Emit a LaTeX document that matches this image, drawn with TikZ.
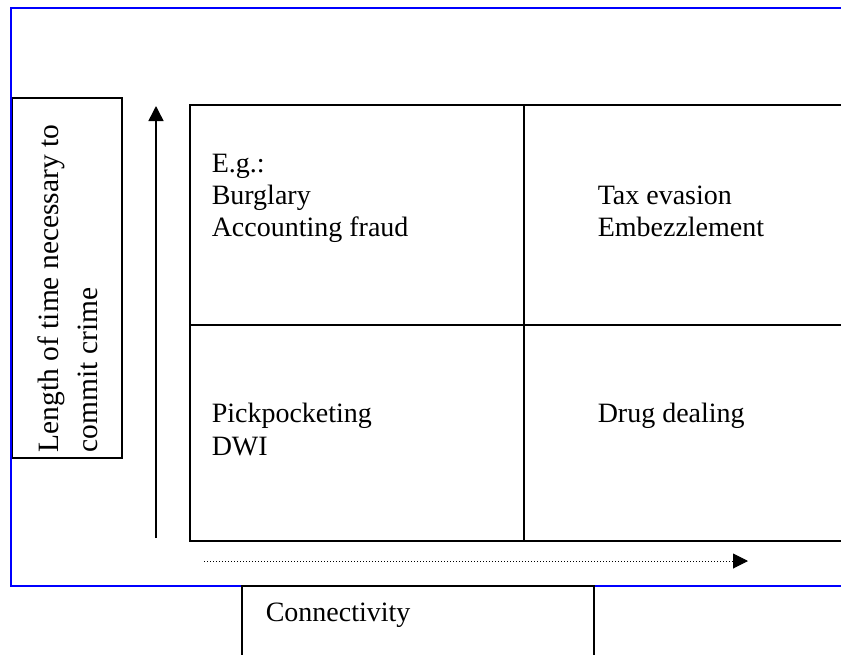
\documentclass[tikz,border=0pt]{standalone}
\usepackage{fontspec}
\setmainfont{Liberation Serif}
\usetikzlibrary{arrows.meta}

\tikzset{
  txt/.style={anchor=base west, inner sep=0pt, font=\fontsize{28}{32}\selectfont},
  sidetxt/.style={txt, rotate=90, font=\fontsize{29.5}{34}\selectfont},
  labelbox/.style={draw, line width=1.5pt, inner sep=0pt, outer sep=0pt, anchor=north west},
  frame/.style={draw=blue, line width=1.5pt},
  tip/.style={-{Triangle[length=15pt,width=15pt]}},
}

\begin{document}
\begin{tikzpicture}[x=1pt,y=-1pt,line width=1.5pt]

	\clip (0,0) rectangle (841,654);

	% label of the vertical axis
	\node[labelbox, minimum width=110pt, minimum height=360pt] (timebox) at (12,98) {};
	\node[sidetxt] (time1) at (58,453) {Length of time necessary to};
	\node[sidetxt] (time2) at (97,453) {commit crime};

	\draw[frame] (860,586) -- (11,586) -- (11,8) -- (860,8);

	% the four cells
	\node[labelbox, minimum width=334pt, minimum height=220pt] (celltl) at (190,105) {};
	\node[labelbox, minimum width=340pt, minimum height=220pt] (celltr) at (celltl.north east) {};
	\node[labelbox, minimum width=334pt, minimum height=216pt] (cellbl) at (celltl.south west) {};
	\node[labelbox, minimum width=340pt, minimum height=216pt] (cellbr) at (cellbl.north east) {};

	\node[txt] (eg) at (211,172) {E.g.:};
	\node[txt] (burglary) at (211,204) {Burglary};
	\node[txt] (fraud) at (211,236) {Accounting fraud};
	\node[txt] (tax) at (597,204) {Tax evasion};
	\node[txt] (embezzle) at (597,236) {Embezzlement};
	\node[txt] (pick) at (211,422) {Pickpocketing};
	\node[txt] (dwi) at (211,455) {DWI};
	\node[txt] (drug) at (597,422) {Drug dealing};

	% axes
	\coordinate (ybot) at (156,538);
	\coordinate (ytop) at (156,106);
	\draw[tip] (ybot) -- (ytop);

	\coordinate (xstart) at (204,561);
	\coordinate (xend) at (748,561);
	\draw[tip, dotted, line width=1pt] (xstart) -- (xend);

	% label of the horizontal axis
	\node[labelbox, minimum width=352pt, minimum height=100pt] (connbox) at (242,586) {};
	\node[txt] (conn) at (265,621) {Connectivity};

\end{tikzpicture}
\end{document}
